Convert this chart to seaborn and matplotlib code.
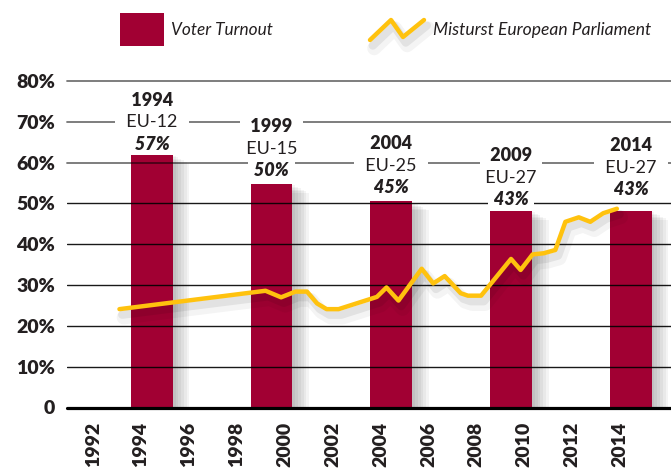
import matplotlib
matplotlib.use("Agg")
import matplotlib.pyplot as plt
import matplotlib.patheffects as pe
from matplotlib.patches import Rectangle
from matplotlib.lines import Line2D
import seaborn as sns

# ---------------- data ----------------
election_x = [1994.45, 1999.45, 2004.45, 2009.45, 2014.45]   # June elections
turnout_bar = [62.1, 54.8, 50.6, 48.2, 48.2]
label_years = ["1994", "1999", "2004", "2009", "2014"]
label_eu = ["EU-12", "EU-15", "EU-25", "EU-27", "EU-27"]
label_pct = ["57%", "50%", "45%", "43%", "43%"]

mistrust_x = [1993.1, 1999.2, 1999.85, 2000.45, 2000.93, 2001.35, 2001.75, 2002.25,
              2003.85, 2004.25, 2004.75, 2005.72, 2006.2, 2006.68, 2007.35, 2007.65,
              2008.2, 2009.45, 2009.85, 2010.35, 2010.82, 2011.3, 2011.72, 2012.28,
              2012.76, 2013.3, 2013.87]
mistrust_y = [24.1, 28.6, 27.0, 28.4, 28.4, 25.5, 24.1, 24.1,
              27.1, 29.4, 26.2, 34.0, 30.4, 32.2, 28.0, 27.4,
              27.4, 36.4, 33.7, 37.5, 37.8, 38.6, 45.5, 46.6,
              45.5, 47.6, 48.7]

x_ticks = list(range(1992, 2015, 2))
y_ticks = [0, 10, 20, 30, 40, 50, 60, 70, 80]
y_tick_labels = ["0", "10%", "20%", "30%", "40%", "50%", "60%", "70%", "80%"]

legend_bar = "Voter Turnout"
legend_line = "Misturst European Parliament"

# ---------------- style ----------------
BAR = "#A10033"
LINE = "#FFC20E"
TXT = "#231f20"

sns.set_style("white")
plt.rcParams["font.family"] = ["Lato", "DejaVu Sans"]

W, H = 671, 475
fig = plt.figure(figsize=(W / 100, H / 100), dpi=100)
ax = fig.add_axes([67 / W, 1 - 407.5 / H, 1 - 67 / W, (407.5 - 81) / H])

sns.barplot(x=election_x, y=turnout_bar, native_scale=True, width=0.35,
            color=BAR, saturation=1, errorbar=None, ax=ax, zorder=2)

bar_shadow = [pe.SimplePatchShadow(offset=(o, -o * 0.55), shadow_rgbFace="black", alpha=0.045)
              for o in (2, 4, 6, 8, 10, 12)] + [pe.Normal()]
for p in ax.patches:
    p.set_path_effects(bar_shadow)
    p.set_edgecolor("none")

sns.lineplot(x=mistrust_x, y=mistrust_y, color=LINE, linewidth=3.2, sort=False,
             estimator=None, ax=ax, zorder=6, solid_capstyle="round",
             solid_joinstyle="round")
line_shadow = [pe.SimpleLineShadow(offset=(2, -4), shadow_color="black", alpha=0.07, linewidth=6),
               pe.SimpleLineShadow(offset=(3, -6), shadow_color="black", alpha=0.045, linewidth=10),
               pe.Normal()]
for ln in ax.lines:
    ln.set_path_effects(line_shadow)

# gridlines
for v in y_ticks[1:]:
    if v >= 60:
        ax.axhline(v, color="black", alpha=0.55, lw=1.3, zorder=3, clip_on=False)
    else:
        ax.axhline(v, color="black", alpha=0.9, lw=1.0, zorder=3)
ax.axhline(0, color="black", lw=2.3, zorder=4, clip_on=False)

ax.set_xlim(1990.91, 2016.13)
ax.set_ylim(0, 80)
for s in ax.spines.values():
    s.set_visible(False)

ax.set_xticks(x_ticks)
ax.set_xticklabels([str(t) for t in x_ticks], rotation=90, fontsize=14,
                   fontweight="heavy", color=TXT)
ax.set_yticks(y_ticks)
ax.set_yticklabels(y_tick_labels, fontsize=14, fontweight="heavy", color=TXT)
ax.tick_params(axis="x", length=0, pad=10)
ax.tick_params(axis="y", length=0, pad=8.5)
ax.grid(False)
ax.set_xlabel("")
ax.set_ylabel("")

# bar annotations
gap_px = [10, 13, 13, 11, 21]
box = dict(boxstyle="square,pad=0.12", fc="white", ec="none")
for xv, hv, yr, eu, pc, g in zip(election_x, turnout_bar, label_years, label_eu, label_pct, gap_px):
    base = g * 0.72
    step = 22 * 0.72
    ax.annotate(" " + pc + " ", xy=(xv, hv), xytext=(0, base), textcoords="offset points",
                ha="center", va="center", fontsize=13, fontweight="heavy", style="italic",
                color=TXT, bbox=box, zorder=7, annotation_clip=False)
    ax.annotate("  " + eu + "  ", xy=(xv, hv), xytext=(0, base + step), textcoords="offset points",
                ha="center", va="center", fontsize=13, color=TXT, bbox=box, zorder=7,
                annotation_clip=False)
    ax.annotate("  " + yr + "  ", xy=(xv, hv), xytext=(0, base + 2 * step), textcoords="offset points",
                ha="center", va="center", fontsize=13, fontweight="heavy", color=TXT,
                bbox=box, zorder=7, annotation_clip=False)

# legend (drawn manually)
fig.patches.append(Rectangle((120 / W, 1 - 46 / H), 44 / W, 33 / H,
                             transform=fig.transFigure, fc=BAR, ec="none"))
fig.text(171 / W, 1 - 30 / H, legend_bar, fontsize=12.4, style="italic",
         color=TXT, va="center", ha="left")
zx = [370, 391, 403, 424]
zy = [40, 20, 37, 20]
icon = Line2D([v / W for v in zx], [1 - v / H for v in zy], transform=fig.transFigure,
              color=LINE, lw=3.2, solid_capstyle="round", solid_joinstyle="round")
icon.set_path_effects(line_shadow)
fig.lines.append(icon)
fig.text(433 / W, 1 - 30 / H, legend_line, fontsize=12.6, style="italic",
         color=TXT, va="center", ha="left")

fig.savefig("out.png", dpi=100)
